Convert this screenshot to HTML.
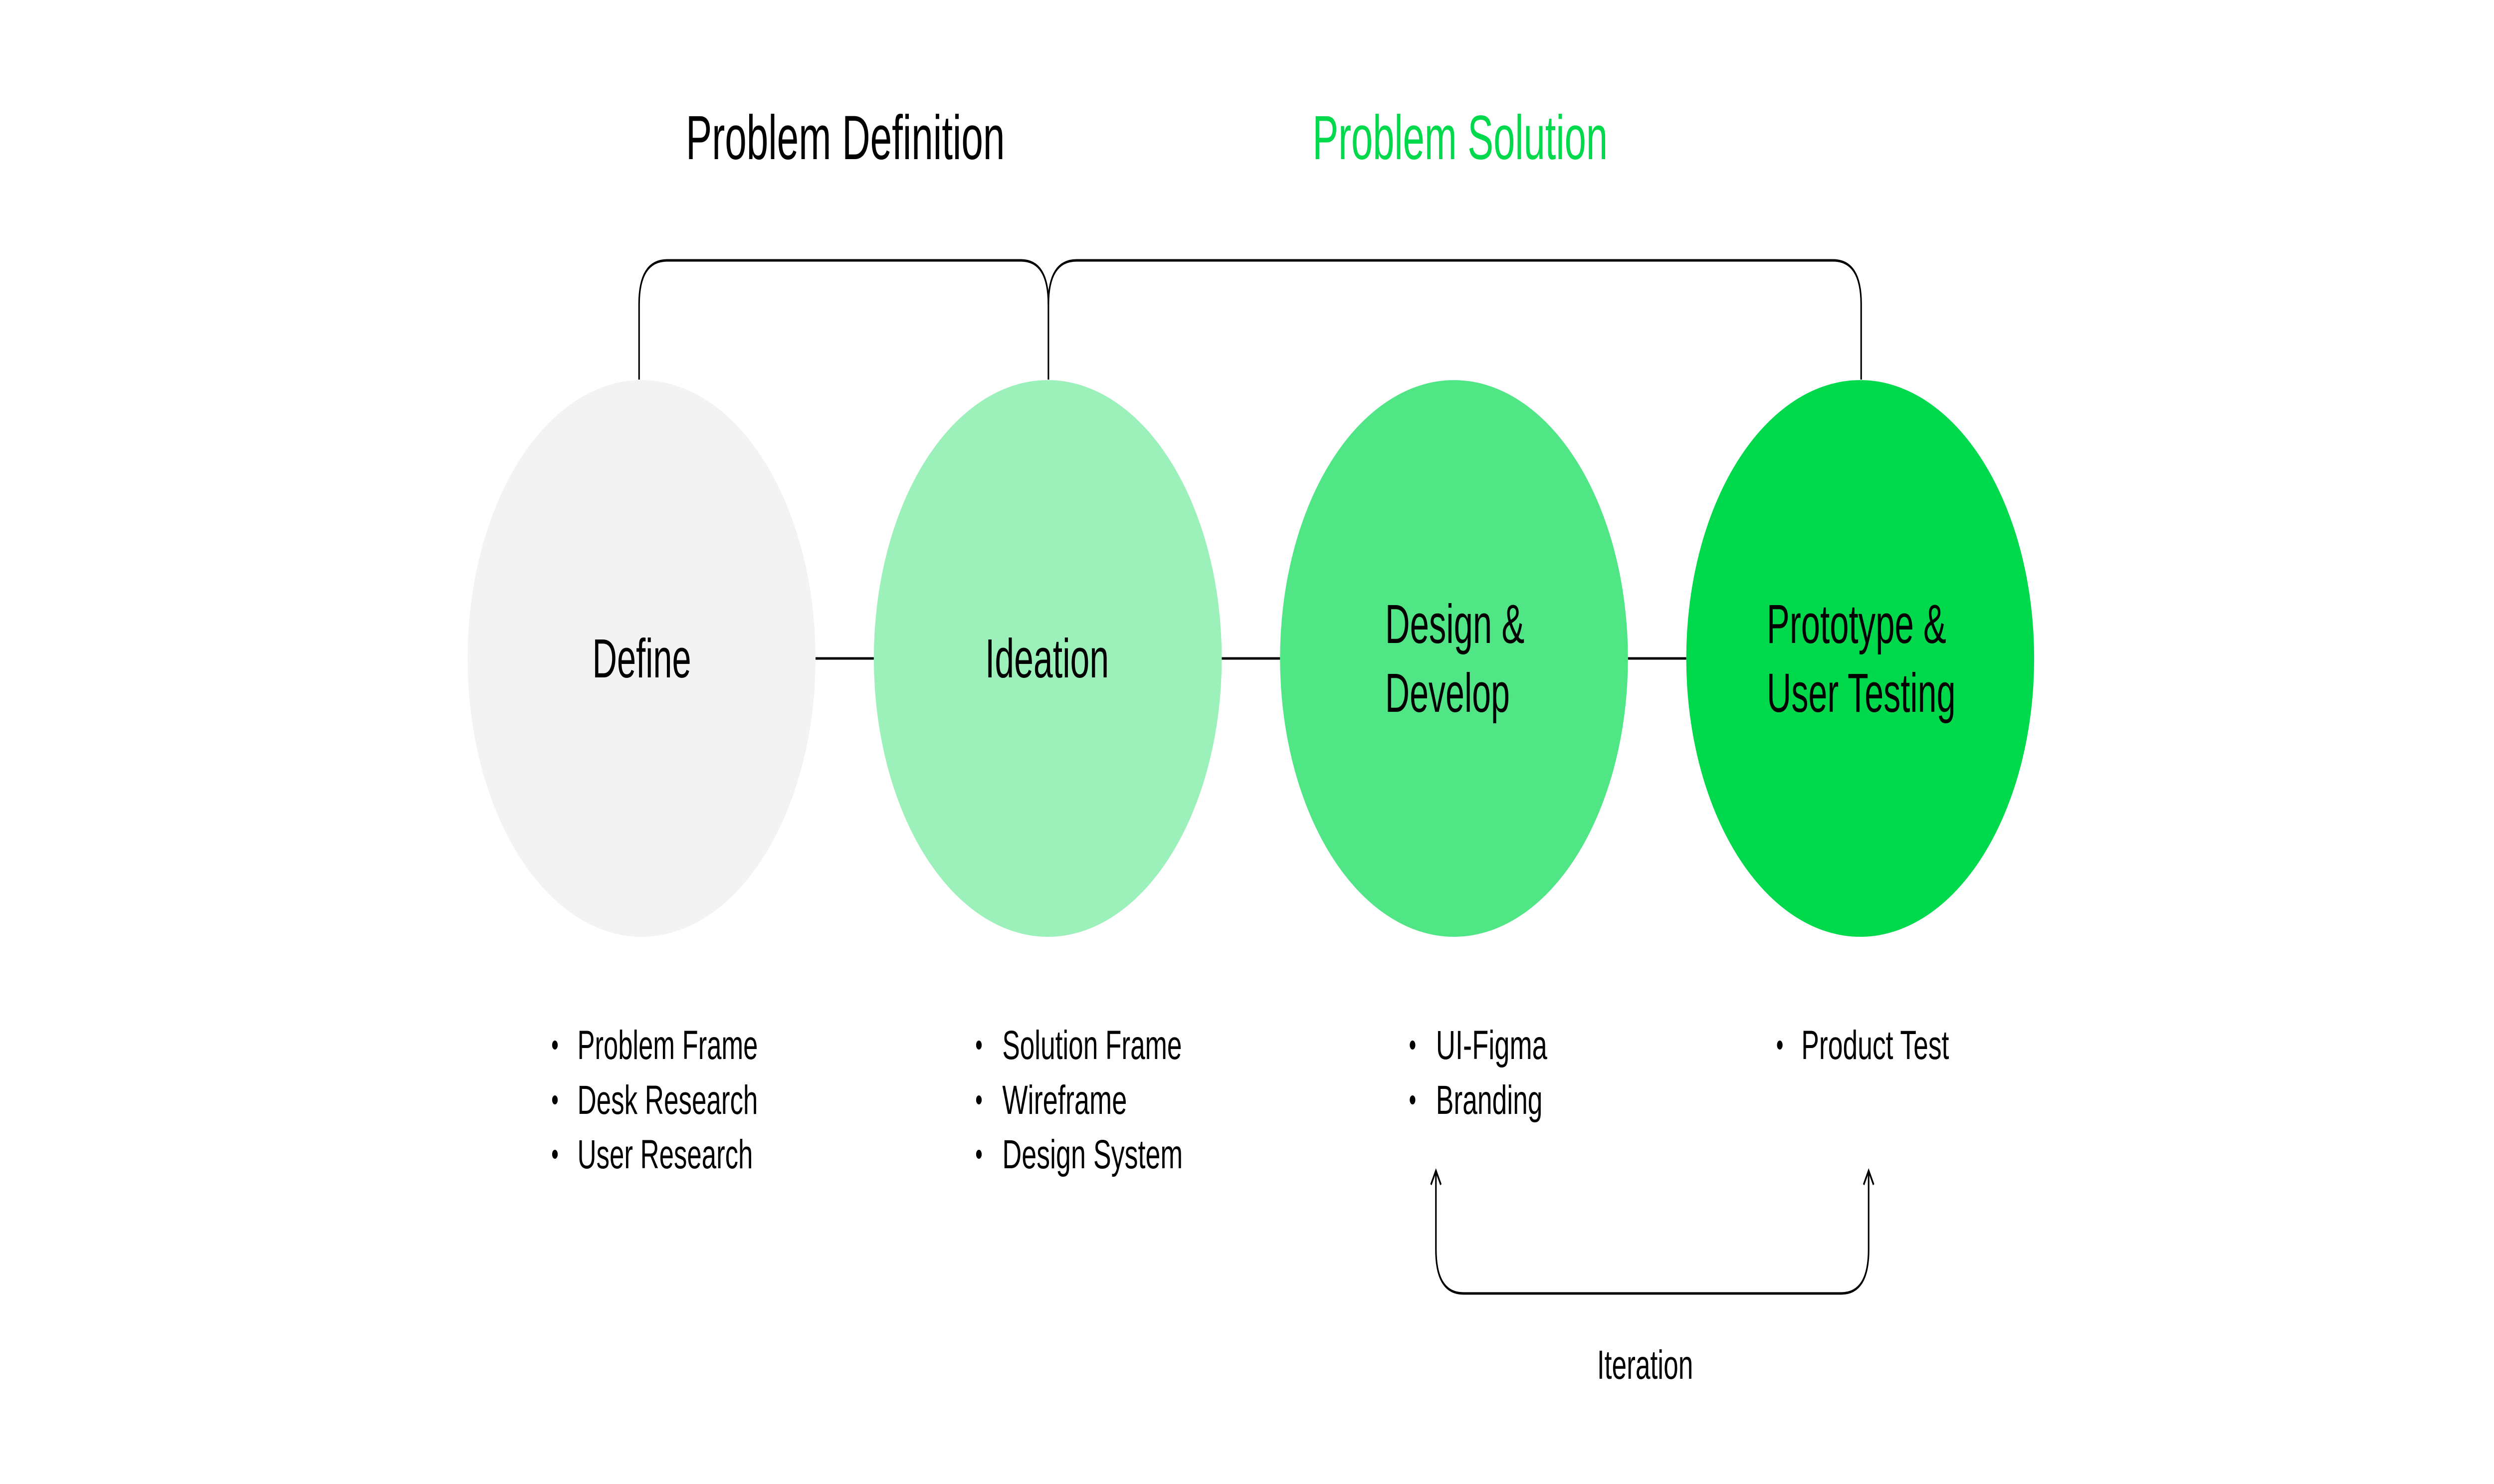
<!DOCTYPE html>
<html><head><meta charset="utf-8"><style>
html,body{margin:0;padding:0;background:#fff;width:100%;height:100%;overflow:hidden;}
svg{display:block;width:100vw;height:100vh;}
text{font-family:"Liberation Sans",sans-serif;}
</style></head><body>
<svg viewBox="0 0 8000 2975" preserveAspectRatio="none" xmlns="http://www.w3.org/2000/svg">
<rect width="8000" height="2975" fill="#fff"/>
<text x="2200" y="319" font-size="125" fill="#000" textLength="1023" lengthAdjust="spacingAndGlyphs">Problem Definition</text>
<text x="4210" y="319" font-size="125" fill="#00d94b" textLength="947" lengthAdjust="spacingAndGlyphs">Problem Solution</text>
<g fill="none" stroke="#000" stroke-width="5">
<path d="M2050 761 V610 Q2050 522 2140 522 H3275 Q3363 522 3363 610 V761"/>
<path d="M3363 610 Q3363 522 3453 522 H5880 Q5970 522 5970 610 V761"/>
<line x1="2616" y1="1320" x2="2803" y2="1320"/>
<line x1="3919" y1="1320" x2="4106" y2="1320"/>
<line x1="5222" y1="1320" x2="5409" y2="1320"/>
</g>
<circle cx="2058" cy="1320" r="558" fill="#f3f3f3"/>
<circle cx="3361" cy="1320" r="558" fill="#9cf0b9"/>
<circle cx="4664" cy="1320" r="558" fill="#50e585"/>
<circle cx="5967" cy="1320" r="558" fill="#00d94b"/>
<g font-size="110" fill="#000">
<text x="1900" y="1358" textLength="317" lengthAdjust="spacingAndGlyphs">Define</text>
<text x="3160" y="1358" textLength="397" lengthAdjust="spacingAndGlyphs">Ideation</text>
<text x="4443" y="1289" textLength="447" lengthAdjust="spacingAndGlyphs">Design &amp;</text>
<text x="4443" y="1427" textLength="400" lengthAdjust="spacingAndGlyphs">Develop</text>
<text x="5667" y="1289" textLength="576" lengthAdjust="spacingAndGlyphs">Prototype &amp;</text>
<text x="5667" y="1427" textLength="606" lengthAdjust="spacingAndGlyphs">User Testing</text>
</g>
<g font-size="82" fill="#000">
<circle cx="1780" cy="2095" r="9"/><text x="1852" y="2123" textLength="579" lengthAdjust="spacingAndGlyphs">Problem Frame</text>
<circle cx="1780" cy="2205" r="9"/><text x="1852" y="2233" textLength="579" lengthAdjust="spacingAndGlyphs">Desk Research</text>
<circle cx="1780" cy="2314" r="9"/><text x="1852" y="2342" textLength="563" lengthAdjust="spacingAndGlyphs">User Research</text>
<circle cx="3140" cy="2095" r="9"/><text x="3215" y="2123" textLength="576" lengthAdjust="spacingAndGlyphs">Solution Frame</text>
<circle cx="3140" cy="2205" r="9"/><text x="3215" y="2233" textLength="400" lengthAdjust="spacingAndGlyphs">Wireframe</text>
<circle cx="3140" cy="2314" r="9"/><text x="3215" y="2342" textLength="579" lengthAdjust="spacingAndGlyphs">Design System</text>
<circle cx="4531" cy="2095" r="9"/><text x="4606" y="2123" textLength="357" lengthAdjust="spacingAndGlyphs">UI-Figma</text>
<circle cx="4531" cy="2205" r="9"/><text x="4606" y="2233" textLength="342" lengthAdjust="spacingAndGlyphs">Branding</text>
<circle cx="5709" cy="2095" r="9"/><text x="5778" y="2123" textLength="474" lengthAdjust="spacingAndGlyphs">Product Test</text>
<text x="5123" y="2764" textLength="308" lengthAdjust="spacingAndGlyphs">Iteration</text>
</g>
<g fill="none" stroke="#000" stroke-width="5">
<path d="M4606 2350 V2505 Q4606 2593 4694 2593 H5906 Q5994 2593 5994 2505 V2350"/>
<path d="M4590 2375 L4606 2347 L4622 2375"/>
<path d="M5978 2375 L5994 2347 L6010 2375"/>
</g>
</svg>
</body></html>
